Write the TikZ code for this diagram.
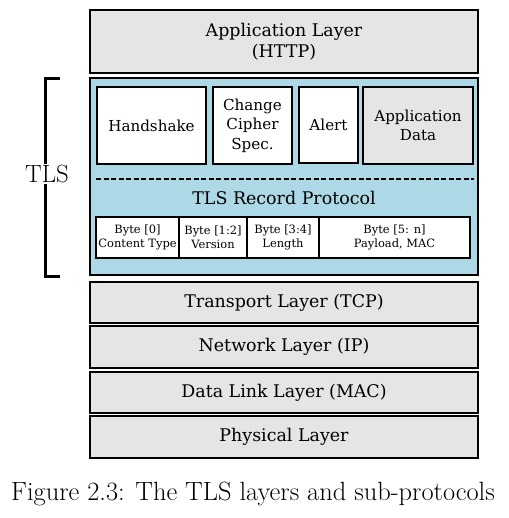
\documentclass[tikz,border=0pt]{standalone}
\usepackage{fontspec}
\newfontfamily\diagfont{DejaVu Serif}
\usetikzlibrary{positioning}
\definecolor{tlsblue}{RGB}{173,216,230}
\tikzset{
  layer/.style={draw, line width=1.8bp, fill=black!10, inner sep=0pt, minimum width=388bp, align=center, font=\diagfont\fontsize{17.5}{21}\selectfont},
  subproto/.style={draw, line width=1.8bp, fill=white, inner sep=0pt, minimum height=77bp, align=center, font=\diagfont\fontsize{15.2}{19.5}\selectfont},
  bytebox/.style={draw, line width=1.4bp, fill=white, inner sep=0pt, minimum height=41bp, align=center, font=\diagfont\fontsize{11.5}{14}\selectfont}
}
\begin{document}
\begin{tikzpicture}[x=1bp,y=-1bp]
			%%%%% START %%%%%
			\useasboundingbox (0, 0) rectangle (509, 518);
			
			\node[layer, minimum height=63bp] (app) at (284, 41.5) {Application Layer\\(HTTP)};
			
			\node[draw, line width=1.8bp, fill=tlsblue, minimum width=388bp, minimum height=197bp] (tls) at (284, 176.5) {};
			
			\node[subproto, minimum width=109bp] (hs) at (151.5, 125.5) {Handshake};
			\node[subproto, minimum width=79bp] (ccs) at (252.5, 125.5) {Change\\Cipher\\Spec.};
			\node[subproto, minimum width=59bp, minimum height=76bp] (alert) at (328.5, 125) {Alert};
			\node[subproto, minimum width=110bp, fill=black!10] (appdata) at (418, 125.5) {Application\\Data};
			
			\coordinate (dl) at (96, 179);
			\coordinate (dr) at (474, 179);
			\draw[line width=1.6bp, dash pattern=on 5bp off 2.5bp] (dl) -- (dr);
			
			\node[font=\diagfont\fontsize{17.5}{21}\selectfont] (rec) at (284, 198) {TLS Record Protocol};
			
			\node[bytebox, minimum width=83bp] (b0) at (137.5, 237.5) {Byte [0]\\Content Type};
			\node[bytebox, minimum width=68bp] (b1) at (213, 237.5) {Byte [1:2]\\Version};
			\node[bytebox, minimum width=72bp] (b2) at (283, 237.5) {Byte [3:4]\\Length};
			\node[bytebox, minimum width=151bp] (b3) at (394.5, 237.5) {Byte [5: n]\\Payload, MAC};
			
			\node[layer, minimum height=41bp] (tcp) at (284, 302.5) {Transport Layer (TCP)};
			\node[layer, minimum height=42bp] (ip) at (284, 347) {Network Layer (IP)};
			\node[layer, minimum height=41bp] (mac) at (284, 392.5) {Data Link Layer (MAC)};
			\node[layer, minimum height=42bp] (phy) at (284, 437) {Physical Layer};
			
			\coordinate (bt) at (60, 79);
			\coordinate (bb) at (60, 276);
			\draw[line width=3bp] (bt) -- (45, 79) -- (45, 276) -- (bb);
			\node[fill=white, inner sep=1bp, font=\fontsize{25}{30}\selectfont] (tlslabel) at (47, 174) {TLS};
			
			\node[font=\fontsize{26.5}{32}\selectfont] (caption) at (253, 494) {Figure 2.3: The TLS layers and sub-protocols};
			
			%%%%% END %%%%%
\end{tikzpicture}
\end{document}
